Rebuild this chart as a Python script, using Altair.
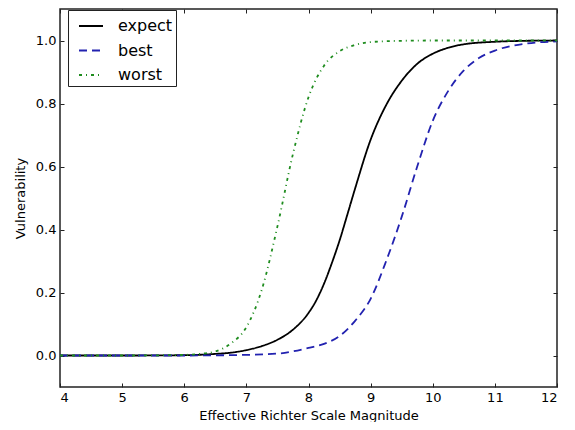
import altair as alt
import pandas as pd

series_names = ["expect", "best", "worst"]

expect_x = [4, 5, 6, 6.5, 6.75, 7, 7.25, 7.5, 7.75, 8, 8.125, 8.25, 8.375, 8.5, 8.625, 8.75, 9, 9.25, 9.5, 9.75, 10, 10.25, 10.5, 11, 11.5, 12]
expect_y = [0, 0, 0.001, 0.005, 0.009, 0.017, 0.03, 0.05, 0.082, 0.135, 0.175, 0.228, 0.293, 0.365, 0.447, 0.53, 0.685, 0.795, 0.872, 0.926, 0.958, 0.977, 0.988, 0.996, 0.999, 1.0]

best_x = [4, 5, 6, 7, 7.5, 8, 8.25, 8.5, 8.75, 9, 9.25, 9.5, 9.75, 10, 10.25, 10.5, 10.75, 11, 11.5, 12]
best_y = [0, 0, 0, 0.002, 0.006, 0.024, 0.037, 0.062, 0.11, 0.18, 0.30, 0.44, 0.60, 0.745, 0.84, 0.905, 0.945, 0.968, 0.99, 0.997]

worst_x = [4, 5, 5.5, 6, 6.25, 6.5, 6.75, 7, 7.25, 7.5, 7.75, 8, 8.25, 8.5, 8.75, 9, 9.5, 10, 11, 12]
worst_y = [0, 0, 0.0005, 0.002, 0.005, 0.013, 0.038, 0.09, 0.21, 0.41, 0.64, 0.82, 0.92, 0.966, 0.986, 0.995, 0.999, 1.0, 1.0, 1.0]

x_ticks = [4, 5, 6, 7, 8, 9, 10, 11, 12]
y_ticks = [0.0, 0.2, 0.4, 0.6, 0.8, 1.0]

rows = []
for name, xs, ys in [("expect", expect_x, expect_y), ("best", best_x, best_y), ("worst", worst_x, worst_y)]:
    for i, (a, b) in enumerate(zip(xs, ys)):
        rows.append({"x": a, "y": b, "series": name, "order": i})
df = pd.DataFrame(rows)

FONT = "DejaVu Sans"
xscale = alt.Scale(domain=[4, 12], nice=False, zero=False)
yscale = alt.Scale(domain=[-0.1, 1.1], nice=False, zero=False)

lines = alt.Chart(df).mark_line(strokeWidth=1.8, interpolate="monotone").encode(
    x=alt.X("x:Q", scale=xscale,
            axis=alt.Axis(orient="bottom", values=x_ticks, format="d", offset=-4, tickSize=4,
                          domain=False, labelPadding=4, titlePadding=5,
                          title="Effective Richter Scale Magnitude")),
    y=alt.Y("y:Q", scale=yscale,
            axis=alt.Axis(orient="left", values=y_ticks, format=".1f", offset=-4, tickSize=4,
                          domain=False, labelPadding=4, titlePadding=8, title="Vulnerability")),
    color=alt.Color("series:N", scale=alt.Scale(domain=series_names, range=["#000000", "#2222b0", "#1e8c1e"]),
                    legend=alt.Legend(title=None, orient="none", legendX=8, legendY=1)),
    strokeDash=alt.StrokeDash("series:N", scale=alt.Scale(domain=series_names, range=[[1, 0], [8, 5], [3, 4, 1, 4]]),
                              legend=alt.Legend(title=None, orient="none", legendX=8, legendY=1)),
    order="order:Q",
)

frame = alt.Chart(df).mark_line(opacity=0).encode(
    x=alt.X("x:Q", scale=xscale,
            axis=alt.Axis(orient="top", values=x_ticks, labels=False, offset=-4, tickSize=4,
                          domain=False, title=None)),
    y=alt.Y("y:Q", scale=yscale,
            axis=alt.Axis(orient="right", values=y_ticks, labels=False, offset=-4, tickSize=4,
                          domain=False, title=None)),
    detail="series:N",
)

chart = alt.layer(lines, frame).resolve_scale(x="independent", y="independent").properties(
    width=497, height=378,
    padding={"left": 6, "top": 0, "right": 0, "bottom": 0},
).configure_view(
    stroke="#222222", strokeWidth=1.5
).configure_axis(
    labelFont=FONT, titleFont=FONT, labelFontSize=13, titleFontSize=13,
    titleFontWeight="normal", labelColor="black", titleColor="black",
    tickColor="#222222", tickWidth=1, grid=False,
).configure_legend(
    labelFont=FONT, labelFontSize=16, labelColor="black",
    symbolType="stroke", symbolSize=576, symbolStrokeWidth=1.8,
    strokeColor="#222222", fillColor="white", padding=3, rowPadding=3.5,
    symbolOffset=7, labelOffset=14, cornerRadius=0,
)

chart.save("out.html", embed_options={"renderer": "svg", "actions": False})
